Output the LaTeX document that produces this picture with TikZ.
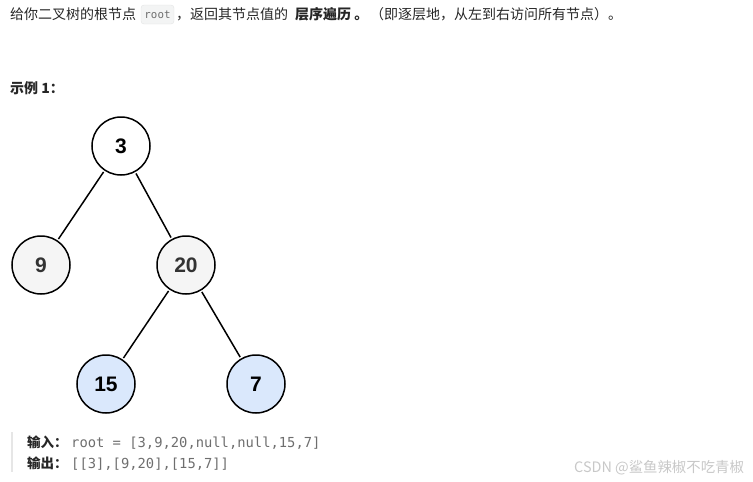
\documentclass[tikz,border=0pt]{standalone}
\usepackage{fontspec}
\setmainfont{Liberation Sans}
\setmonofont{DejaVu Sans Mono}
\newfontfamily\cjk{Noto Sans CJK SC}
\usetikzlibrary{positioning}

\definecolor{grayfill}{HTML}{F5F5F5}
\definecolor{bluefill}{HTML}{DAE8FC}
\definecolor{numgray}{HTML}{333333}
\definecolor{codegray}{HTML}{6E6E6E}
\definecolor{codebg}{HTML}{F3F4F4}
\definecolor{codeline}{HTML}{E3E3E3}
\definecolor{bargray}{HTML}{E6E6E6}
\definecolor{marktext}{HTML}{C8C8C8}
\definecolor{bodytext}{HTML}{262626}

\tikzset{
  treenode/.style={circle, draw=black, line width=1.5pt, minimum size=58pt,
    inner sep=0pt, font=\fontsize{21}{21}\selectfont\bfseries},
  graynode/.style={treenode, fill=grayfill, text=numgray},
  bluenode/.style={treenode, fill=bluefill, text=black},
  treeedge/.style={line width=1.5pt, shorten >=1.5pt, shorten <=1.5pt},
  txt/.style={anchor=base west, inner sep=0pt, text=bodytext,
    font=\cjk\fontsize{14}{14}\selectfont},
  codetxt/.style={anchor=base west, inner sep=0pt, text=codegray,
    font=\ttfamily\fontsize{13.8}{14}\selectfont},
}

\begin{document}
\begin{tikzpicture}[x=1pt, y=-1pt]
\useasboundingbox (0,0) rectangle (753,482);

% ----------------------------
% HEADER TEXT
% ----------------------------
\node[txt] (intro) at (10,19) {给你二叉树的根节点};
\draw[codeline, fill=codebg, rounded corners=3pt] (141,5) rectangle (174,24);
\node[anchor=base, inner sep=0pt, text=codegray,
  font=\ttfamily\fontsize{10.8}{11}\selectfont] (root) at (157.5,18.5) {root};
\node[txt] (ret) at (176,19) {，返回其节点值的};
\node[txt, font=\cjk\bfseries\fontsize{14}{14}\selectfont] (bfs) at (295,19) {层序遍历 。};
\node[txt] (note) at (370,19) {（即逐层地，从左到右访问所有节点）。};

\node[txt, font=\cjk\bfseries\fontsize{14}{14}\selectfont] (example) at (10,93) {示例 1：};

% ----------------------------
% TREE
% ----------------------------
\node[treenode, fill=white] (n3) at (121,146) {3};
\node[graynode] (n9) at (41,265) {9};
\node[graynode] (n20) at (186,265) {20};
\node[bluenode] (n15) at (106,384) {15};
\node[bluenode] (n7) at (256,384) {7};

\draw[treeedge] (n3) -- (n9);
\draw[treeedge] (n3) -- (n20);
\draw[treeedge] (n20) -- (n15);
\draw[treeedge] (n20) -- (n7);

% ----------------------------
% INPUT / OUTPUT
% ----------------------------
\fill[bargray] (10.5,432) rectangle (13,472);
\node[txt, font=\cjk\bfseries\fontsize{13.5}{14}\selectfont] (inlabel) at (27,447) {输入：};
\node[codetxt] (incode) at (71,447) {root = [3,9,20,null,null,15,7]};
\node[txt, font=\cjk\bfseries\fontsize{13.5}{14}\selectfont] (outlabel) at (27,468) {输出：};
\node[codetxt] (outcode) at (71,468) {[[3],[9,20],[15,7]]};

% watermark
\node[txt, text=marktext, font=\cjk\fontsize{14.4}{15}\selectfont] (mark) at (574,472.5) {CSDN @鲨鱼辣椒不吃青椒};

\end{tikzpicture}
\end{document}
